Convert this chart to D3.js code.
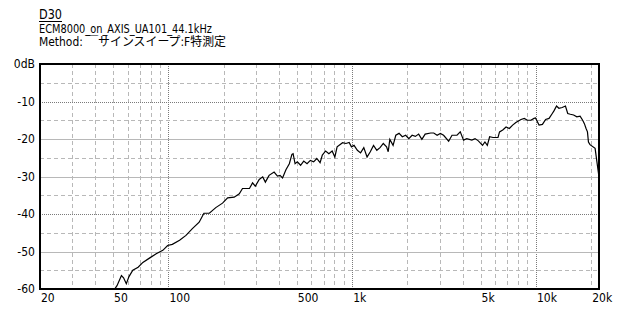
<!DOCTYPE html>
<html>
<head>
<meta charset="utf-8">
<script src="https://cdn.jsdelivr.net/npm/d3@7"></script>
<style>
  body { margin: 0; background: #fff; }
  text { font-family: "Liberation Sans Narrow", "DejaVu Sans Condensed", "Noto Sans CJK JP", sans-serif; fill: #000; }
</style>
</head>
<body>
<div id="chart"></div>
<script>
(function() {
    // measured response: [frequency Hz, level dB]
    const freqs = [50, 51, 52.5, 55.5, 57, 59, 61, 64, 68.4, 72.6, 79.2, 85.8, 93.2, 99, 105, 115, 124.6, 135, 147, 156, 167,
        181, 197, 210, 228, 243, 253, 276, 287, 297, 312, 326, 337, 353, 376, 392, 405, 418, 436, 455, 470, 477, 489, 503,
        524, 545, 568, 592, 617, 642, 669, 688, 717, 747, 778, 805, 828, 887, 925, 963, 991, 1024, 1067, 1111, 1157, 1205,
        1255, 1307, 1362, 1418, 1477, 1539, 1571, 1603, 1670, 1728, 1800, 1875, 1955, 2034, 2120, 2208, 2300, 2396, 2496,
        2676, 2780, 2900, 3020, 3145, 3350, 3495, 3720, 3876, 4038, 4205, 4480, 4665, 4860, 5123, 5280, 5440, 5600, 5840,
        6220, 6340, 6600, 6880, 7170, 7470, 7780, 8300, 8640, 9000, 9380, 9770, 9950, 10400, 10850, 11300, 11790, 12280,
        12540, 12950, 13340, 13900, 14480, 14900, 15400, 16040, 16700, 17400, 17970, 18360, 18750, 19080, 19320, 19700,
        21000, 22050];
    const levels = [-62, -60, -59.1, -56.4, -57, -58.6, -56.7, -55, -54.2, -52.9, -51.7, -50.6, -49.7, -48.4, -48.1, -47, -45.7, -43.9, -42.2, -39.8, -39.8,
        -38.3, -37.1, -35.7, -35.5, -34.6, -33.2, -33.2, -31.7, -32.6, -30.8, -30.1, -31.5, -29.7, -28.8, -29.9, -29.7, -30.4, -28.2, -26.6, -24.1, -23.9, -26.6, -26.1,
        -27, -25.9, -26.6, -25.7, -26.1, -25.2, -26.3, -24.3, -23.2, -23.9, -23.2, -24.8, -22.1, -21, -21.2, -20.9, -22.1, -21.7, -23, -23.7, -22.3, -24.8,
        -23.4, -21.7, -23, -22.3, -21.2, -22.1, -23.4, -20.1, -21.7, -19, -18.5, -19.4, -19, -19.9, -19, -19.3, -18.7, -20.1, -18.7,
        -18.4, -18.4, -19, -18.5, -19, -20.6, -19, -19, -18.1, -20.3, -19.9, -20.3, -19.9, -20.5, -21.7, -20.8, -21.7, -19.4, -19.6,
        -19.6, -18.1, -17.6, -16.8, -17.2, -16.3, -15.6, -14.8, -14.5, -15, -15, -14.5, -14.4, -16.3, -16.1, -14.8, -14.5, -13.2,
        -12.5, -11.2, -11.8, -11.6, -11.2, -13.2, -13.4, -13.6, -14.1, -13.9, -15, -15.9, -17.2, -18.1, -20.8, -21.5,
        -22.5, -30.2];
    const startMarker = [20, -46];

    const xTicks = [20, 50, 100, 500, 1000, 5000, 10000, 20000];
    const xTickLabels = ['20', '50', '100', '500', '1k', '5k', '10k', '20k'];
    const yTicks = [0, -10, -20, -30, -40, -50, -60];
    const yTickLabels = ['0dB', '-10', '-20', '-30', '-40', '-50', '-60'];
    const titleText = 'D30';
    const subtitleLines = ['ECM8000_on_AXIS_UA101_44.1kHz', 'Method: \uFFE3サインスイープ:F特測定'];

    const width = 640, height = 320;
    const margin = {top: 64, right: 41, bottom: 31, left: 40};

    const svg = d3.select('#chart')
        .append('svg')
        .attr('width', width)
        .attr('height', height);

    const x = d3.scaleLog().domain([20, 22050]).range([margin.left, width - margin.right]);
    const y = d3.scaleLinear().domain([-60, 0]).range([height - margin.bottom, margin.top]);

    // vertical grid: every 1..9 multiple per decade
    const minorX = [];
    [10, 100, 1000, 10000].forEach(dec => {
        for (let k = 1; k <= 9; k++) {
            const f = dec * k;
            if (f > 20 && f <= 20000) minorX.push(f);
        }
    });
    const grid = svg.append('g').attr('shape-rendering', 'crispEdges');
    grid.selectAll('.vgrid')
        .data(minorX)
        .enter().append('line')
        .attr('x1', d => Math.round(x(d)) + 0.5)
        .attr('x2', d => Math.round(x(d)) + 0.5)
        .attr('y1', y(0))
        .attr('y2', y(-60))
        .attr('stroke', d => [100, 1000, 10000].includes(d) ? '#7a7a7a' : '#b8b8b8')
        .attr('stroke-dasharray', d => [100, 1000, 10000].includes(d) ? '1,1' : '4,3');

    // horizontal grid: every 5 dB
    const hLines = d3.range(-55, 0, 5);
    grid.selectAll('.hgrid')
        .data(hLines)
        .enter().append('line')
        .attr('x1', x(20))
        .attr('x2', x(22050))
        .attr('y1', d => Math.round(y(d)) + 0.5)
        .attr('y2', d => Math.round(y(d)) + 0.5)
        .attr('stroke', d => (d === -10 || d === -40) ? '#7a7a7a' : '#b8b8b8')
        .attr('stroke-dasharray', d => d % 10 !== 0 ? '4,3' : (d === -10 || d === -40) ? '1,1' : null);

    // response curve
    const data = freqs.map((f, i) => [f, levels[i]]);
    svg.append('clipPath').attr('id', 'plotClip')
        .append('rect')
        .attr('x', x(20)).attr('y', y(0))
        .attr('width', x(22050) - x(20)).attr('height', y(-60) - y(0));

    svg.append('path')
        .datum(data)
        .attr('clip-path', 'url(#plotClip)')
        .attr('fill', 'none')
        .attr('stroke', '#000')
        .attr('stroke-width', 1.2)
        .attr('d', d3.line().x(d => x(d[0])).y(d => y(d[1])));

    svg.append('rect')
        .attr('x', x(startMarker[0]) - 1)
        .attr('y', y(startMarker[1]) - 1)
        .attr('width', 2).attr('height', 3)
        .attr('fill', '#000');

    // frame
    svg.append('rect')
        .attr('x', x(20))
        .attr('y', y(0))
        .attr('width', x(22050) - x(20))
        .attr('height', y(-60) - y(0))
        .attr('fill', 'none')
        .attr('stroke', '#000')
        .attr('stroke-width', 2);

    // axis labels
    svg.selectAll('.xlab')
        .data(xTicks)
        .enter().append('text')
        .attr('x', d => x(d) + 1)
        .attr('y', 302)
        .attr('font-size', 12)
        .text((d, i) => xTickLabels[i]);

    svg.selectAll('.ylab')
        .data(yTicks)
        .enter().append('text')
        .attr('x', 35)
        .attr('y', d => y(d) + 4)
        .attr('text-anchor', 'end')
        .attr('font-size', 12)
        .text((d, i) => yTickLabels[i]);

    // title block
    svg.append('text')
        .attr('x', 39)
        .attr('y', 19)
        .attr('font-size', 14)
        .attr('textLength', 23)
        .attr('lengthAdjust', 'spacingAndGlyphs')
        .text(titleText);
    svg.append('line')
        .attr('x1', 39).attr('x2', 62)
        .attr('y1', 21.5).attr('y2', 21.5)
        .attr('stroke', '#000');

    svg.append('text')
        .attr('x', 39)
        .attr('y', 33)
        .attr('font-size', 12)
        .attr('textLength', 173)
        .attr('lengthAdjust', 'spacingAndGlyphs')
        .text(subtitleLines[0]);
    svg.append('text')
        .attr('x', 39)
        .attr('y', 46)
        .attr('font-size', 12)
        .attr('textLength', 187)
        .attr('lengthAdjust', 'spacingAndGlyphs')
        .text(subtitleLines[1]);
})();
</script>
</body>
</html>
